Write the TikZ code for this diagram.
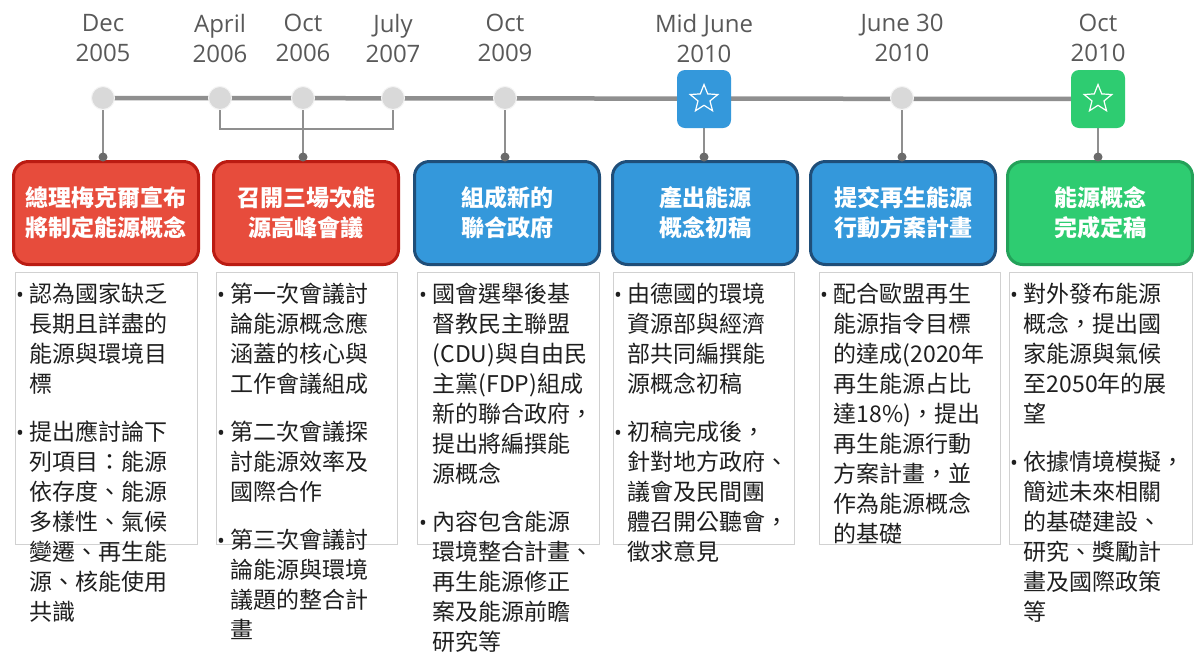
\documentclass[tikz,border=0pt]{standalone}
\usepackage{fontspec}
\setmainfont{Open Sans}
\newfontfamily\cjk{Noto Sans CJK TC}
\usetikzlibrary{positioning,shapes.geometric,calc}
\definecolor{evred}{HTML}{E74C3C}
\definecolor{evredline}{HTML}{BA1B12}
\definecolor{evblue}{HTML}{3498DB}
\definecolor{evblueline}{HTML}{1F4E79}
\definecolor{evgreen}{HTML}{2ECC71}
\definecolor{evgreenline}{HTML}{24A159}
\definecolor{axisgrey}{HTML}{8F8F8F}
\definecolor{dotgrey}{HTML}{D9D9D9}
\definecolor{dategrey}{HTML}{595959}
\pgfdeclarelayer{back}
\pgfsetlayers{back,main}
\newcommand{\bul}{\makebox[13.5pt][l]{\rmfamily\fontsize{21}{30}\selectfont •}}

\begin{document}
\begin{tikzpicture}
    [ x=1pt, y=-1pt
    , date/.style={align=center, text=dategrey, font=\fontsize{24}{30}\selectfont}
    , dot/.style={circle, minimum size=23pt, inner sep=0pt, fill=dotgrey, draw=white!70!dotgrey, line width=1pt}
    , starbox/.style={rectangle, rounded corners=8pt, minimum width=54pt, minimum height=58pt, inner sep=0pt}
    , staricon/.style={star, star points=5, star point ratio=2.3, draw=white, line width=1.2pt, minimum size=29pt, inner sep=0pt}
    , event/.style={rectangle, rounded corners=15pt, minimum width=185pt, minimum height=103pt, line width=3pt, align=center, text=white, font=\cjk\bfseries\fontsize{23}{30}\selectfont}
    , tip/.style={circle, fill=axisgrey!75!black, minimum size=9pt, inner sep=0pt}
    , link/.style={draw=axisgrey, line width=2.5pt}
    , axis/.style={draw=axisgrey, line width=4.5pt}
    , panel/.style={draw=black!18, line width=0.8pt, fill=white, anchor=north west, inner sep=0pt, minimum height=272pt}
    , notes/.style={anchor=north west, inner sep=0pt, text=black!88, font=\cjk\fontsize{23}{30}\selectfont}
    ]
  \useasboundingbox (0,0) rectangle (1194,657);
  \begin{pgfonlayer}{back}
    \fill[white] (0,0) rectangle (1194,657);
  \end{pgfonlayer}

  \node[date] (dt1) at (103,38) {Dec\\2005};
  \node[date] (dt2) at (220,38) {April\\2006};
  \node[date] (dt3) at (303,38) {Oct\\2006};
  \node[date] (dt4) at (393,38) {July\\2007};
  \node[date] (dt5) at (505,38) {Oct\\2009};
  \node[date] (dt6) at (704,38) {Mid June\\2010};
  \node[date] (dt7) at (902,38) {June 30\\2010};
  \node[date] (dt8) at (1098,38) {Oct\\2010};

  \node[dot] (d1) at (103,98) {};
  \node[dot] (d2) at (220,98) {};
  \node[dot] (d3) at (303,98) {};
  \node[dot] (d4) at (393,98) {};
  \node[dot] (d5) at (505,98) {};
  \node[starbox, fill=evblue] (d6) at (704,99) {};
  \node[staricon] (s6) at (d6) {};
  \node[dot] (d7) at (902,98) {};
  \node[starbox, fill=evgreen] (d8) at (1098,99) {};
  \node[staricon] (s8) at (d8) {};

  \node[event, fill=evred, draw=evredline] (h1) at (106,213) {總理梅克爾宣布\\將制定能源概念};
  \node[event, fill=evred, draw=evredline] (h2) at (306,213) {召開三場次能\\源高峰會議};
  \node[event, fill=evblue, draw=evblueline] (h3) at (507,213) {組成新的\\聯合政府};
  \node[event, fill=evblue, draw=evblueline] (h4) at (705,213) {產出能源\\概念初稿};
  \node[event, fill=evblue, draw=evblueline] (h5) at (903,213) {提交再生能源\\行動方案計畫};
  \node[event, fill=evgreen, draw=evgreenline] (h6) at (1100,213) {能源概念\\完成定稿};

  \node[tip] (e1) at ([yshift=3pt]d1 |- h1.north) {};
  \node[tip] (e2) at ([yshift=3pt]d3 |- h2.north) {};
  \node[tip] (e3) at ([yshift=3pt]d5 |- h3.north) {};
  \node[tip] (e4) at ([yshift=3pt]d6 |- h4.north) {};
  \node[tip] (e5) at ([yshift=3pt]d7 |- h5.north) {};
  \node[tip] (e6) at ([yshift=3pt]d8 |- h6.north) {};
  \coordinate (brk) at (303,129);

  \begin{pgfonlayer}{back}
    \draw[axis] (d1.center) -- (d8.center);
    \draw[link] (d2.center) |- (brk) -| (d4.center);
    \draw[link] (d1.center) -- (e1.center);
    \draw[link] (d3.center) -- (e2.center);
    \draw[link] (d5.center) -- (e3.center);
    \draw[link] (d6.center) -- (e4.center);
    \draw[link] (d7.center) -- (e5.center);
    \draw[link] (d8.center) -- (e6.center);
  \end{pgfonlayer}

  \node[panel, minimum width=182pt] (c1) at (15,272) {};
  \node[panel, minimum width=181pt] (c2) at (216,272) {};
  \node[panel, minimum width=182pt] (c3) at (417,272) {};
  \node[panel, minimum width=181pt] (c4) at (613,272) {};
  \node[panel, minimum width=181pt] (c5) at (819,272) {};
  \node[panel, minimum width=183pt] (c6) at (1009,272) {};

  \node[notes] (t1) at (16,281)
    {\begin{tabular}{@{}l@{}l@{}}
     \bul & 認為國家缺乏\\
          & 長期且詳盡的\\
          & 能源與環境目\\
          & 標\\[18pt]
     \bul & 提出應討論下\\
          & 列項目：能源\\
          & 依存度、能源\\
          & 多樣性、氣候\\
          & 變遷、再生能\\
          & 源、核能使用\\
          & 共識
     \end{tabular}};
  \node[notes] (t2) at (217,281)
    {\begin{tabular}{@{}l@{}l@{}}
     \bul & 第一次會議討\\
          & 論能源概念應\\
          & 涵蓋的核心與\\
          & 工作會議組成\\[18pt]
     \bul & 第二次會議探\\
          & 討能源效率及\\
          & 國際合作\\[18pt]
     \bul & 第三次會議討\\
          & 論能源與環境\\
          & 議題的整合計\\
          & 畫
     \end{tabular}};
  \node[notes] (t3) at (419,281)
    {\begin{tabular}{@{}l@{}l@{}}
     \bul & 國會選舉後基\\
          & 督教民主聯盟\\
          & (CDU)與自由民\\
          & 主黨(FDP)組成\\
          & 新的聯合政府，\\
          & 提出將編撰能\\
          & 源概念\\[18pt]
     \bul & 內容包含能源\\
          & 環境整合計畫、\\
          & 再生能源修正\\
          & 案及能源前瞻\\
          & 研究等
     \end{tabular}};
  \node[notes] (t4) at (614,281)
    {\begin{tabular}{@{}l@{}l@{}}
     \bul & 由德國的環境\\
          & 資源部與經濟\\
          & 部共同編撰能\\
          & 源概念初稿\\[18pt]
     \bul & 初稿完成後，\\
          & 針對地方政府、\\
          & 議會及民間團\\
          & 體召開公聽會，\\
          & 徵求意見
     \end{tabular}};
  \node[notes] (t5) at (820,281)
    {\begin{tabular}{@{}l@{}l@{}}
     \bul & 配合歐盟再生\\
          & 能源指令目標\\
          & 的達成(2020年\\
          & 再生能源占比\\
          & 達18\%)，提出\\
          & 再生能源行動\\
          & 方案計畫，並\\
          & 作為能源概念\\
          & 的基礎
     \end{tabular}};
  \node[notes] (t6) at (1010,281)
    {\begin{tabular}{@{}l@{}l@{}}
     \bul & 對外發布能源\\
          & 概念，提出國\\
          & 家能源與氣候\\
          & 至2050年的展\\
          & 望\\[18pt]
     \bul & 依據情境模擬，\\
          & 簡述未來相關\\
          & 的基礎建設、\\
          & 研究、獎勵計\\
          & 畫及國際政策\\
          & 等
     \end{tabular}};
\end{tikzpicture}
\end{document}
